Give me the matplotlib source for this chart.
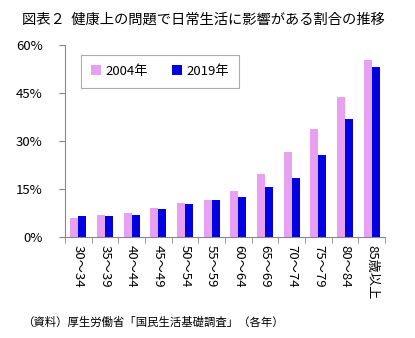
import numpy as np
import matplotlib
matplotlib.use("Agg")
import matplotlib.pyplot as plt

plt.rcParams["font.family"] = ["Noto Sans CJK JP", "DejaVu Sans"]

ages = ["30～34", "35～39", "40～44", "45～49", "50～54", "55～59", "60～64",
        "65～69", "70～74", "75～79", "80～84", "85歳以上"]
rate_2004 = [5.9, 6.9, 7.5, 9.1, 10.5, 11.5, 14.4, 19.6, 26.5, 33.7, 43.7, 55.2]
rate_2019 = [6.5, 6.5, 6.9, 8.7, 10.3, 11.5, 12.4, 15.6, 18.3, 25.5, 36.8, 53.0]
yticks = [0, 15, 30, 45, 60]

W, H = 415, 338
fig = plt.figure(figsize=(W / 100, H / 100), dpi=100)
ax = fig.add_axes([65 / W, 1 - 237 / H, 320 / W, 192 / H])

x = np.arange(len(ages))
bw = 0.3
ax.bar(x - bw / 2, rate_2004, bw, color="#E8A0F0", label="2004年")
ax.bar(x + bw / 2, rate_2019, bw, color="#0000E0", label="2019年")

ax.set_xlim(-0.5, len(ages) - 0.5)
ax.set_ylim(0, 60)
ax.set_yticks(yticks, [f"{v}%" for v in yticks], fontsize=9.5)
ax.set_xticks(x, ages, rotation=270, fontsize=9.5, va="top", ha="center")
ax.set_xticks(np.arange(len(ages) + 1) - 0.5, minor=True)
ax.tick_params(axis="x", which="major", length=0, pad=6)
ax.tick_params(axis="x", which="minor", length=4, color="#888888", direction="out")
ax.tick_params(axis="y", length=4, color="#888888", direction="out", pad=12)
for side in ("top", "right"):
    ax.spines[side].set_visible(False)
for side in ("left", "bottom"):
    ax.spines[side].set_color("#888888")

leg = fig.legend(loc="upper left", bbox_to_anchor=(81 / W, 1 - 55 / H), ncol=2,
                 fontsize=9.5, frameon=True, fancybox=False, edgecolor="#999999",
                 handlelength=0.8, handleheight=0.8, handletextpad=0.3,
                 columnspacing=1.8, borderpad=0.75, borderaxespad=0)
leg.get_frame().set_linewidth(0.8)
leg._legend_box.sep = 0
for t in leg.get_texts():
    pass

fig.text(22 / W, 1 - 20 / H, "図表２  健康上の問題で日常生活に影響がある割合の推移",
         fontsize=10.3, va="center", ha="left")
fig.text(22 / W, 1 - 322 / H, "（資料）厚生労働省「国民生活基礎調査」（各年）",
         fontsize=8.2, va="center", ha="left")

fig.savefig("out.png", dpi=100)
